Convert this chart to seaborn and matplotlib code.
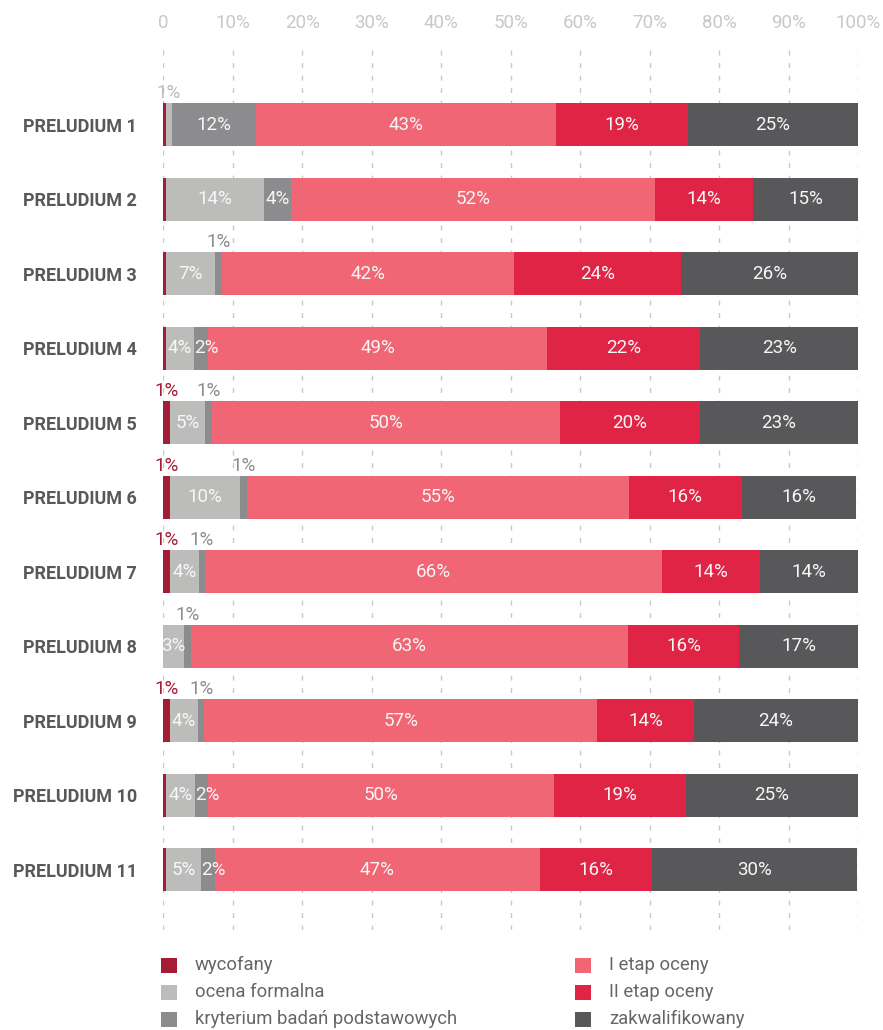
import numpy as np
import pandas as pd
import seaborn as sns
import matplotlib.pyplot as plt
from matplotlib.patches import Rectangle

# Daten (Anteile in %)
kategorien = ["PRELUDIUM 1", "PRELUDIUM 2", "PRELUDIUM 3", "PRELUDIUM 4",
              "PRELUDIUM 5", "PRELUDIUM 6", "PRELUDIUM 7", "PRELUDIUM 8",
              "PRELUDIUM 9", "PRELUDIUM 10", "PRELUDIUM 11"]

wycofany = [0.4, 0.4, 0.4, 0.4, 1.0, 1.0, 1.0, 0.0, 1.0, 0.4, 0.4]
ocena_formalna = [0.8, 14.1, 7.0, 4.0, 5.0, 10.0, 4.1, 3.0, 4.0, 4.2, 5.0]
kryterium = [12.2, 3.9, 1.0, 2.0, 1.0, 1.0, 0.9, 1.0, 0.9, 1.8, 2.0]
etap1 = [43.1, 52.4, 42.1, 48.9, 50.1, 55.0, 65.8, 62.9, 56.6, 49.9, 46.8]
etap2 = [19.0, 14.1, 24.0, 22.0, 20.1, 16.3, 14.1, 16.0, 13.9, 18.9, 16.1]
zakwalifikowany = [24.5, 15.1, 25.5, 22.7, 22.8, 16.4, 14.1, 17.1, 23.6, 24.8, 29.6]

serien = ["wycofany", "ocena formalna", "kryterium badań podstawowych",
          "I etap oceny", "II etap oceny", "zakwalifikowany"]
farben = ["#a51c36", "#bcbcbb", "#8c8c8e", "#f06675", "#e02446", "#58585a"]

x_ticks = [0, 10, 20, 30, 40, 50, 60, 70, 80, 90, 100]
x_labels = ["0", "10%", "20%", "30%", "40%", "50%", "60%", "70%", "80%", "90%", "100%"]

df = pd.DataFrame({
    "kategorie": kategorien,
    serien[0]: wycofany,
    serien[1]: ocena_formalna,
    serien[2]: kryterium,
    serien[3]: etap1,
    serien[4]: etap2,
    serien[5]: zakwalifikowany})

# Kumulierte Summen für gestapelte Balken
kum = df[serien].cumsum(axis=1)

sns.set_style("white")
plt.rcParams["font.family"] = ["Roboto", "DejaVu Sans"]

W, H = 883, 1030
fig = plt.figure(figsize=(W / 100, H / 100), dpi=100)
ax = fig.add_axes([163.3 / W, 1 - 930 / H, (858 - 163.3) / W, 880 / H])

# Von der längsten zur kürzesten Summe zeichnen (Überlagerung)
for serie, farbe in reversed(list(zip(serien, farben))):
    sns.barplot(x=kum[serie], y=df["kategorie"], color=farbe, orient="h",
                width=0.577, saturation=1, linewidth=0, ax=ax)

ax.set_xlim(0, 100)
ax.set_ylim(10.81, -1.0)
ax.set_xlabel("")
ax.set_ylabel("")
ax.set_xticks(x_ticks)
ax.set_xticklabels(x_labels)
ax.xaxis.tick_top()
ax.tick_params(axis="x", length=0, pad=13, labelsize=13.5, labelcolor="#c8c8c8")
ax.tick_params(axis="y", length=0, pad=19, labelsize=13, labelcolor="#58585a")
for lab in ax.get_yticklabels():
    lab.set_fontweight("bold")
for s in ax.spines.values():
    s.set_visible(False)
ax.set_axisbelow(True)
ax.grid(axis="x", color="#c8c8c8", linestyle=(0, (3.5, 5.5)), linewidth=1)
ax.grid(axis="y", visible=False)

# Beschriftungen der Segmente
for i in range(len(kategorien)):
    start = 0
    for serie, farbe in zip(serien, farben):
        wert = df.loc[i, serie]
        mitte = start + wert / 2
        prozent = int(wert + 0.5)
        if wert >= 3:
            ax.text(mitte, i, f"{prozent}%", ha="center", va="center",
                    color="#f7f7f7", fontsize=13.5)
        elif wert >= 1.5:
            # schmale Segmente: Text am Segmentanfang
            ax.text(start, i, f"{prozent}%", ha="left", va="center",
                    color="#f7f7f7", fontsize=13.5)
        elif prozent >= 1:
            ax.text(mitte, i - 0.42, f"{prozent}%", ha="center", va="center",
                    color=farbe, fontsize=13.5)
        start += wert

# Legende
for j, (serie, farbe) in enumerate(zip(serien, farben)):
    x0 = [161, 575][j // 3]
    y0 = [965, 992, 1019][j % 3]
    fig.add_artist(Rectangle((x0 / W, 1 - (y0 + 7.5) / H), 16 / W, 15 / H,
                             transform=fig.transFigure, color=farbe, lw=0))
    fig.text((x0 + 34) / W, 1 - y0 / H, serie, ha="left", va="center",
             color="#666666", fontsize=13.3)

fig.savefig("out.png", dpi=100)
